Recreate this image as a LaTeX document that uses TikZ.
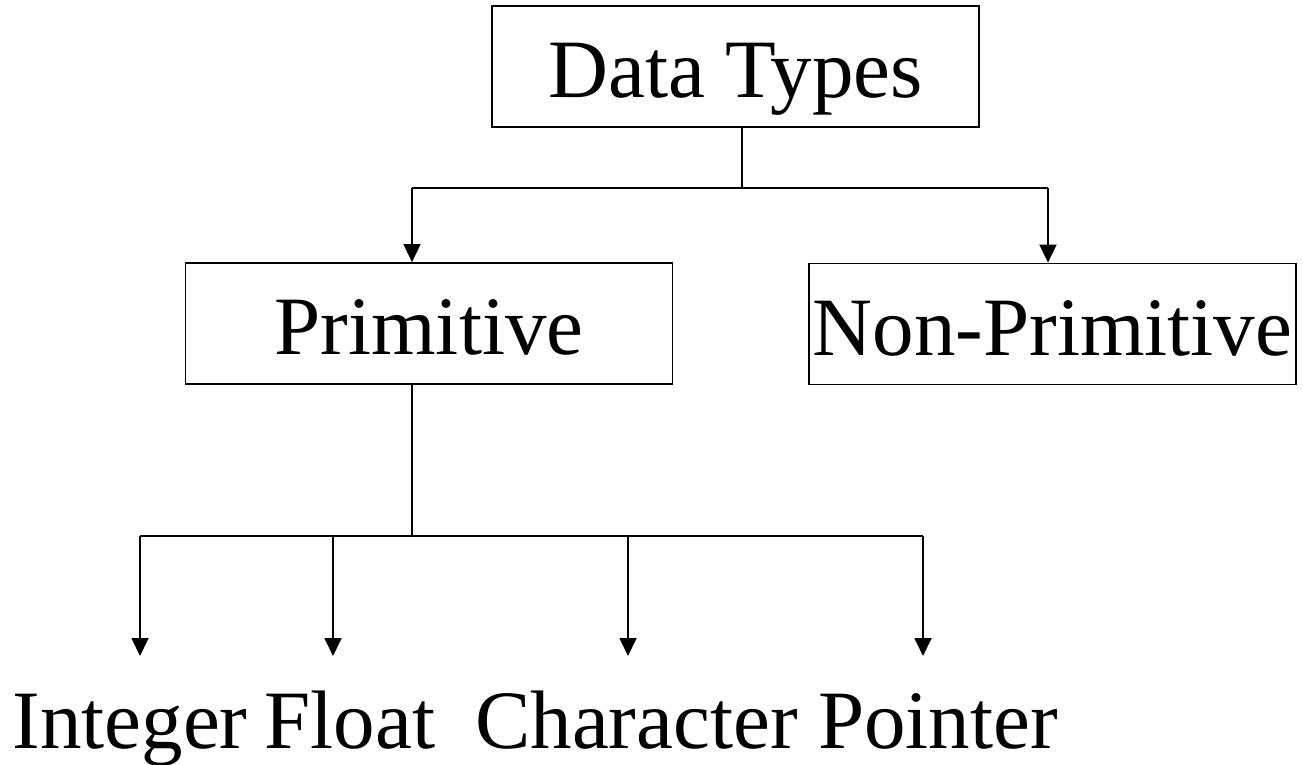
\documentclass[tikz,border=0pt]{standalone}
\usepackage{fontspec}
\setmainfont{Liberation Serif}
\usetikzlibrary{arrows.meta}
\begin{document}
\begin{tikzpicture}[x=1pt,y=-1pt,
  bigfont/.style={font=\fontsize{83}{90}\selectfont},
  box/.style={draw, line width=1.8pt, inner sep=0pt, bigfont,
    minimum width=487pt, minimum height=121pt,
    text height=62pt, text depth=0pt},
  leaf/.style={inner sep=0pt, anchor=base, bigfont},
  wire/.style={line width=1.8pt},
  arrowline/.style={wire, -{Triangle[length=18pt,width=17pt]}}]
\useasboundingbox (0,0) rectangle (1303,765);

% boxes
\node[box] (dt)   at (735.5,66.5) {Data Types};
\node[box] (prim) at (429,323.5)  {Primitive};
\node[box] (nonp) at (1052.5,324) {Non-Primitive};

% leaf labels
\node[leaf] (int)  at (130,748)   {Integer};
\node[leaf] (flt)  at (350,748)   {Float};
\node[leaf] (chr)  at (636.5,748) {Character};
\node[leaf] (ptr)  at (938,748)   {Pointer};

% first level branching
\coordinate (top)  at (742,188);
\coordinate (topl) at (412,188);
\coordinate (topr) at (1048,188);
\draw[wire] (dt.south -| top) -- (top);
\draw[wire] (topl) -- (topr);
\draw[arrowline] (topl) -- (topl |- prim.north);
\draw[arrowline] (topr) -- (topr |- nonp.north);

% second level branching
\coordinate (bus)  at (412,536);
\coordinate (b1) at (140,536);
\coordinate (b2) at (333,536);
\coordinate (b3) at (628,536);
\coordinate (b4) at (923,536);
\coordinate (e1) at (140,656);
\coordinate (e2) at (333,656);
\coordinate (e3) at (628,656);
\coordinate (e4) at (923,656);
\draw[wire] (prim.south -| bus) -- (bus);
\draw[wire] (b1) -- (b4);
\draw[arrowline] (b1) -- (e1);
\draw[arrowline] (b2) -- (e2);
\draw[arrowline] (b3) -- (e3);
\draw[arrowline] (b4) -- (e4);
\end{tikzpicture}
\end{document}
